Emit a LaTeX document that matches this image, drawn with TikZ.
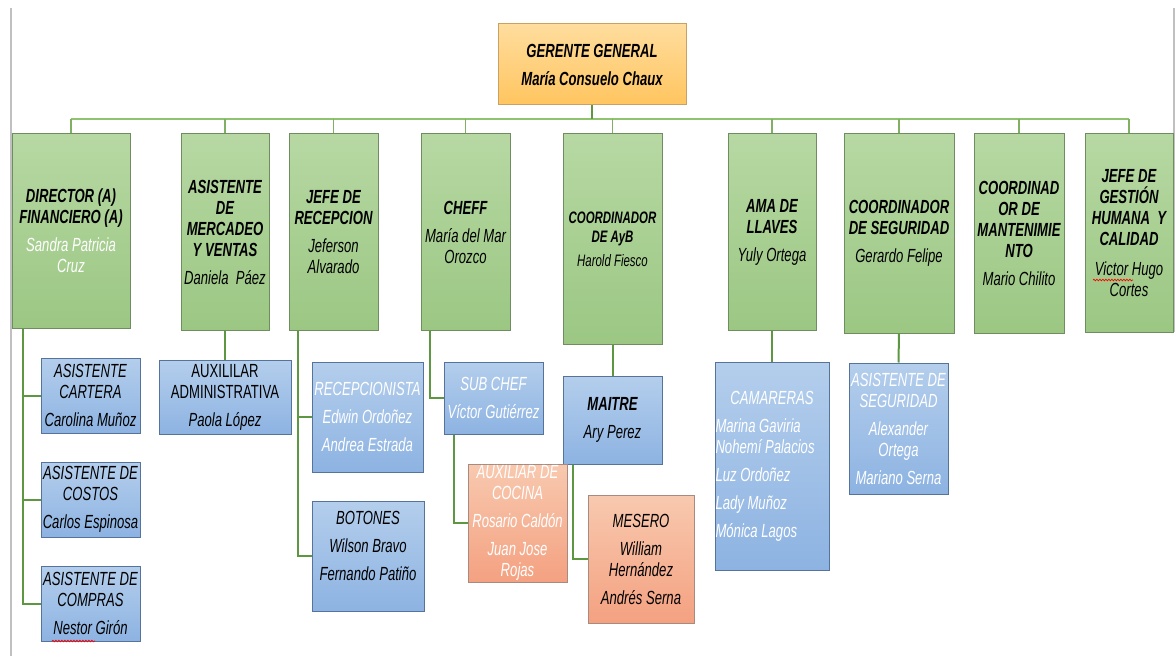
\documentclass[tikz,border=0pt]{standalone}
\usepackage{fontspec}
\setmainfont{Liberation Sans}[FakeStretch=0.69]
\usetikzlibrary{shadings,decorations.pathmorphing}
\definecolor{gTop}{HTML}{B7D8A3}
\definecolor{gBot}{HTML}{9BC783}
\definecolor{gLine}{HTML}{6F8D60}
\definecolor{bTop}{HTML}{B4CEEC}
\definecolor{bBot}{HTML}{8DB3E2}
\definecolor{bLine}{HTML}{56739B}
\definecolor{oTop}{HTML}{FFDD9E}
\definecolor{oBot}{HTML}{FFC55F}
\definecolor{oLine}{HTML}{C9A263}
\definecolor{sTop}{HTML}{F8C9AF}
\definecolor{sBot}{HTML}{F4A181}
\definecolor{sLine}{HTML}{A88B80}
\definecolor{busC}{HTML}{8FC46F}
\definecolor{conC}{HTML}{5E9741}
\definecolor{frameC}{HTML}{C0C0C0}
\newcommand{\mytitle}[1]{\textbf{#1}}
\newcommand{\mywhite}[1]{\textcolor{white}{#1}}
\begin{document}
\begin{tikzpicture}[x=1pt,y=-1pt,
  box/.style={draw, line width=1pt, inner sep=0pt, align=center,
    font=\fontsize{19}{21}\selectfont\itshape},
  gbox/.style={box, draw=gLine, top color=gTop, bottom color=gBot},
  bbox/.style={box, draw=bLine, top color=bTop, bottom color=bBot},
  obox/.style={box, draw=oLine, top color=oTop, bottom color=oBot},
  sbox/.style={box, draw=sLine, top color=sTop, bottom color=sBot},
  bus/.style={busC, line width=2.5pt},
  drop/.style={busC!90!black, line width=1.5pt},
  con/.style={conC, line width=2pt},
  frameline/.style={frameC, line width=1.2pt},
  squiggle/.style={red, line width=0.7pt, decorate,
    decoration={snake, amplitude=0.8pt, segment length=3pt}}
]
\useasboundingbox (0,0) rectangle (1175,658);

% frame lines
\draw[frameline] (11,8) -- (11,656);
\draw[frameline] (1174,8) -- (1174,332);

% top
\node[obox, minimum width=188, minimum height=81] (gg) at (592,64.5)
  {\mytitle{GERENTE GENERAL}\\[7pt]\mytitle{María Consuelo Chaux}};

% level 1
\node[gbox, minimum width=118, minimum height=194] (dir) at (71,231)
  {\mytitle{DIRECTOR (A)}\\\mytitle{FINANCIERO (A)}\\[7pt]\mywhite{Sandra Patricia}\\\mywhite{Cruz}};
\node[gbox, minimum width=88, minimum height=196] (merc) at (225,232)
  {\mytitle{ASISTENTE}\\\mytitle{DE}\\\mytitle{MERCADEO}\\\mytitle{Y VENTAS}\\[7pt]Daniela\ \ Páez};
\node[gbox, minimum width=89, minimum height=196] (rec) at (333.5,232)
  {\mytitle{JEFE DE}\\\mytitle{RECEPCION}\\[7pt]Jeferson\\Alvarado};
\node[gbox, minimum width=89, minimum height=196] (chef) at (465.5,232)
  {\mytitle{CHEFF}\\[7pt]María del Mar\\Orozco};
\node[gbox, minimum width=99, minimum height=210, font=\fontsize{16.6}{19}\selectfont\itshape] (ayb) at (612.5,239)
  {\mytitle{COORDINADOR}\\\mytitle{DE AyB}\\[5pt]Harold Fiesco};
\node[gbox, minimum width=88, minimum height=196] (ama) at (772,232)
  {\mytitle{AMA DE}\\\mytitle{LLAVES}\\[7pt]Yuly Ortega};
\node[gbox, minimum width=110, minimum height=199] (seg) at (899,233.5)
  {\mytitle{COORDINADOR}\\\mytitle{DE SEGURIDAD}\\[7pt]Gerardo Felipe};
\node[gbox, minimum width=90, minimum height=199] (mant) at (1019,233.5)
  {\mytitle{COORDINAD}\\\mytitle{OR DE}\\\mytitle{MANTENIMIE}\\\mytitle{NTO}\\[7pt]Mario Chilito};
\node[gbox, minimum width=88, minimum height=198] (ges) at (1129,233)
  {\mytitle{JEFE DE}\\\mytitle{GESTIÓN}\\\mytitle{HUMANA\ \ Y}\\\mytitle{CALIDAD}\\[9pt]Victor Hugo\\Cortes};

% level 2
\node[bbox, minimum width=99, minimum height=75] (cart) at (90.5,395.5)
  {ASISTENTE\\CARTERA\\[7pt]Carolina Muñoz};
\node[bbox, minimum width=99, minimum height=75] (cost) at (90.5,499.5)
  {ASISTENTE DE\\COSTOS\\[7pt]Carlos Espinosa};
\node[bbox, minimum width=99, minimum height=75] (comp) at (90.5,603.5)
  {ASISTENTE DE\\COMPRAS\\[7pt]Nestor Girón};
\node[bbox, minimum width=132, minimum height=74] (auxa) at (225,397)
  {\upshape AUXILILAR\\\upshape ADMINISTRATIVA\\[7pt]Paola López};
\node[bbox, minimum width=111, minimum height=110, text=white] (recep) at (367.5,417)
  {RECEPCIONISTA\\[7pt]Edwin Ordoñez\\[7pt]Andrea Estrada};
\node[bbox, minimum width=112, minimum height=110] (bot) at (368,556)
  {BOTONES\\[7pt]Wilson Bravo\\[7pt]Fernando Patiño\\[0pt]~};
\node[bbox, minimum width=99, minimum height=72, text=white] (sub) at (493.5,398)
  {SUB CHEF\\[7pt]Víctor Gutiérrez};
\node[bbox, minimum width=99, minimum height=88] (mai) at (612.5,420)
  {\mytitle{MAITRE}\\[7pt]Ary Perez};
\node[sbox, minimum width=99, minimum height=118, text=white] (coc) at (517.5,523)
  {AUXILIAR DE\\COCINA\\[7pt]Rosario Caldón\\[7pt]Juan Jose\\Rojas};
\node[sbox, minimum width=106, minimum height=128] (mes) at (641,559)
  {MESERO\\[7pt]William\\Hernández\\[7pt]Andrés Serna};
\node[bbox, minimum width=114, minimum height=208, text width=113pt, align=left, text=white] (cam) at (772,466)
  {\spaceskip=0pt\xspaceskip=0pt\makebox[113pt]{CAMARERAS}\\[7pt]Marina Gaviria\\Nohemí Palacios\\[7pt]Luz Ordoñez\\[7pt]Lady Muñoz\\[7pt]Mónica Lagos};
\node[bbox, minimum width=99, minimum height=131, text=white] (aseg) at (898.5,428.5)
  {ASISTENTE DE\\SEGURIDAD\\[7pt]Alexander\\Ortega\\[7pt]Mariano Serna};

% level-1 connectors
\coordinate (busL) at (dir.north |- 0,119);
\coordinate (busR) at (ges.north |- 0,119);
\draw[bus] (busL) -- (busR);
\draw[con] (gg.south) -- (gg.south |- busL);
\foreach \n in {dir,merc,rec,chef,ayb,ama,seg,mant,ges}
  \draw[drop] (\n.north) -- (\n.north |- busL);

% level-2 connectors
\coordinate (dirx) at (23,0);
\draw[con] (dir.south -| dirx) |- (cart.west);
\draw[con] (dir.south -| dirx) |- (cost.west);
\draw[con] (dir.south -| dirx) |- (comp.west);
\draw[con] (merc.south) -- (auxa.north);
\coordinate (recx) at (298,0);
\draw[con] (rec.south -| recx) |- (recep.west);
\draw[con] (rec.south -| recx) |- (bot.west);
\coordinate (chefx) at (430,0);
\draw[con] (chef.south -| chefx) |- (sub.west);
\coordinate (subx) at (454,0);
\draw[con] (sub.south -| subx) |- (coc.west);
\draw[con] (ayb.south) -- (mai.north);
\coordinate (maix) at (573,0);
\draw[con] (mai.south -| maix) |- (mes.west);
\draw[con] (ama.south) -- (cam.north);
\draw[con] (seg.south) -- (aseg.north);

% spell-check underlines
\draw[squiggle] (1093,280) -- (1133,280);
\draw[squiggle] (52,641) -- (95,641);
\end{tikzpicture}
\end{document}
